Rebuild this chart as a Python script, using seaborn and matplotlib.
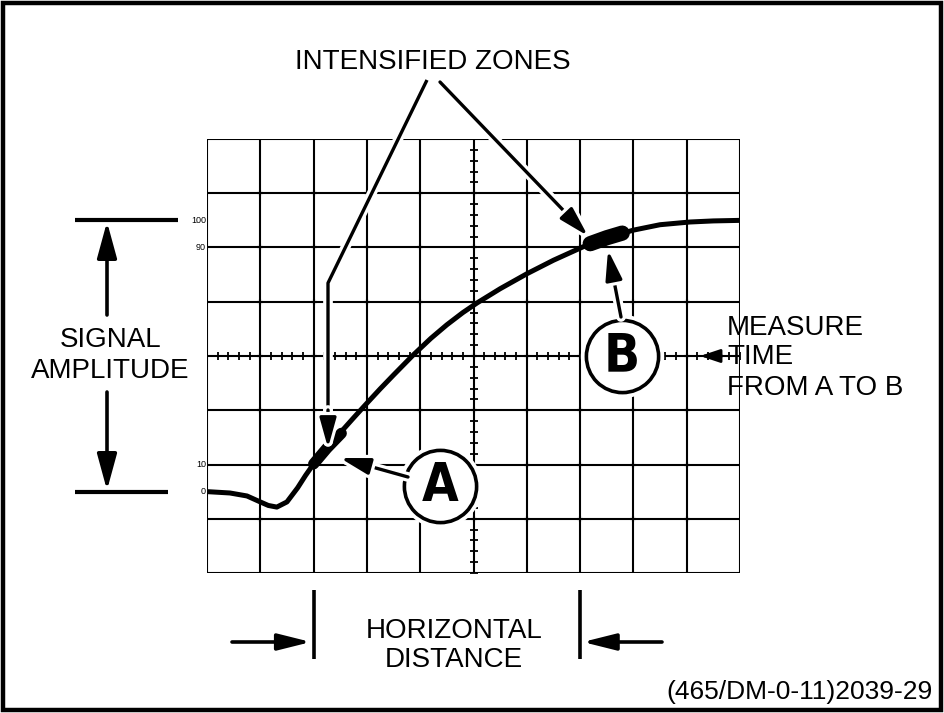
import numpy as np
import matplotlib
matplotlib.use("Agg")
import matplotlib.pyplot as plt
import seaborn as sns
from matplotlib.patches import FancyArrowPatch, Rectangle
import matplotlib.patheffects as pe
from matplotlib import font_manager
from matplotlib.font_manager import FontProperties

sns.set_style("white")
plt.rcParams['font.family'] = ['Liberation Sans', 'DejaVu Sans']
plt.rcParams['text.color'] = 'black'

_cands = [f.fname for f in font_manager.fontManager.ttflist
          if ('Condensed' in f.fname or 'Narrow' in f.fname) and 'Bold' in f.fname
          and 'Oblique' not in f.fname and 'Italic' not in f.fname and 'Semi' not in f.fname]
_cands.sort(key=lambda s: (0 if 'Liberation' in s else 1 if 'DejaVuSans' in s else 2, s))
if _cands:
    CIRCLE_FONT = FontProperties(fname=_cands[0], size=38)
else:
    CIRCLE_FONT = FontProperties(family='Liberation Sans', weight='bold', size=34)

# ---------------- data (time in graticule divisions, amplitude in percent) -------------
time_div = [0.0, 0.43, 0.75, 1.0, 1.15, 1.31, 1.5, 1.7, 1.85, 2.0, 2.25, 2.5, 2.75, 3.0,
            3.25, 3.5, 3.86, 4.2, 4.5, 4.8, 5.07, 5.5, 6.0, 6.5, 7.05, 7.5, 8.0, 8.5,
            9.06, 9.5, 10.0]
amplitude_pct = [0.0, -0.5, -1.6, -3.8, -5.1, -5.7, -3.8, 1.4, 6.0, 10.2, 16.0, 21.7,
                 27.2, 32.6, 37.9, 43.0, 50.2, 56.5, 61.5, 66.0, 69.6, 74.8, 80.3, 85.3,
                 90.2, 93.6, 96.4, 98.4, 99.4, 99.8, 100.0]
zone_a_div = [2.0, 2.25, 2.52]
zone_a_pct = [10.2, 16.0, 21.5]
zone_b_div = [7.19, 7.5, 7.79]
zone_b_pct = [91.4, 93.6, 95.3]
ref_levels = [100, 90, 10, 0]
ref_labels = ["100", "90", "10", "0"]
measure_start_div = 2.0    # 10 % crossing
measure_end_div = 7.0      # 90 % crossing

# graticule layout: 10 x 8 divisions, 20 % per vertical division
x_major = list(range(0, 11))
y_major = [-30, -10, 10, 30, 50, 70, 90, 110, 130]

W, H = 944, 713
fig = plt.figure(figsize=(W / 100, H / 100), dpi=100)
ax = fig.add_axes([207 / W, (H - 573) / H, 533 / W, 434 / H])
ax.set_xlim(0, 10)
ax.set_ylim(-30, 130)
ax.axis("off")

def F(px, py):
    return (px / W, 1 - py / H)

def D(px, py):
    return ((px - 207) / 53.3, 50 + 20 * (356 - py) / 54.25)

K = "black"
glw = 1.5
# graticule
ax.vlines(x_major, -30, 130, color=K, lw=glw, zorder=1)
ax.hlines(y_major, 0, 10, color=K, lw=glw, zorder=1)
xx, yy = np.meshgrid(x_major[1:-1], y_major[1:-1])
ax.plot(xx.ravel(), yy.ravel(), "+", color=K, ms=5, mew=1.5, zorder=1)
minor_x = np.arange(0, 10.01, 0.2)
ax.plot(minor_x, np.full_like(minor_x, 50.0), "|", color=K, ms=6, mew=1.3, zorder=1)
minor_y = np.arange(-30, 130.1, 4)
ax.plot(np.full_like(minor_y, 5.0), minor_y, "_", color=K, ms=6, mew=1.3, zorder=1)

# reference level labels
for lv, lb in zip(ref_levels, ref_labels):
    ax.text(-0.02, lv, lb, ha="right", va="center", fontsize=6.5, color=K,
            bbox=dict(fc="white", ec="none", pad=0.3), zorder=2, clip_on=False)

# signal curve and intensified zones
sns.lineplot(x=time_div, y=amplitude_pct, ax=ax, color=K, lw=3.6, sort=False,
             estimator=None, zorder=6)
ax.plot(zone_a_div, zone_a_pct, color=K, lw=8, solid_capstyle="round", zorder=6)
ax.plot(zone_b_div, zone_b_pct, color=K, lw=11, solid_capstyle="round", zorder=6)

halo = [pe.Stroke(linewidth=7, foreground="white"), pe.Normal()]

def arrow(p0, p1, lw=2.4, hl=18, hw=5, halo_on=False, z=4):
    ar = FancyArrowPatch(F(*p0), F(*p1), transform=fig.transFigure,
                         arrowstyle=f"-|>,head_length={hl},head_width={hw}",
                         mutation_scale=1, lw=lw, color=K, shrinkA=0, shrinkB=0,
                         zorder=z, clip_on=False)
    if halo_on:
        ar.set_path_effects(halo)
    fig.add_artist(ar)

def line(pts, lw=2.4, halo_on=False, z=4):
    xs = [F(*p)[0] for p in pts]
    ys = [F(*p)[1] for p in pts]
    ln = plt.Line2D(xs, ys, transform=fig.transFigure, color=K, lw=lw, zorder=z,
                    solid_capstyle="butt")
    if halo_on:
        ln.set_path_effects(halo)
    fig.add_artist(ln)

# pointers from "INTENSIFIED ZONES"
line([(427, 80), (328, 283), (328, 420)], halo_on=True)
arrow((328, 410), (328, 448), halo_on=True)
arrow((440, 82), (588, 236), halo_on=True)

# circles A and B
xa, ya = D(440, 486)
xb, yb = D(622, 356)
for (cx, cy), s in [((xa, ya), "A"), ((xb, yb), "B")]:
    ax.plot(cx, cy, "o", ms=60, mfc="white", mec="none", zorder=7, clip_on=False)
    ax.plot(cx, cy, "o", ms=52, mfc="white", mec=K, mew=2.6, zorder=7, clip_on=False)
    ax.text(cx, cy, s, ha="center", va="center", fontproperties=CIRCLE_FONT,
            color=K, zorder=8)
arrow((408, 477), (340, 458), halo_on=True, z=7)
arrow((621, 317), (608, 250), halo_on=True, z=7)
arrow((722, 356), (700, 356), lw=2.0, hl=12, hw=4)

# signal amplitude markers
for lv, xr in zip([100, 0], [-0.54, -0.73]):
    ax.plot([-2.48, xr], [lv, lv], color=K, lw=3, clip_on=False, solid_capstyle="butt")
xs_amp = D(107, 0)[0]
for y0, y1 in [(D(0, 315)[1], 100), (D(0, 392)[1], 0)]:
    ax.add_artist(FancyArrowPatch((xs_amp, y0), (xs_amp, y1),
                  arrowstyle="-|>,head_length=22,head_width=6", mutation_scale=1,
                  lw=2.6, color=K, shrinkA=0, shrinkB=1, clip_on=False))

# horizontal distance markers
ytop, ybot = D(0, 590)[1], D(0, 659)[1]
yarr = D(0, 642)[1]
for xm in [measure_start_div, measure_end_div]:
    ax.plot([xm, xm], [ytop, ybot], color=K, lw=2.6, clip_on=False, solid_capstyle="butt")
ax.add_artist(FancyArrowPatch((D(232, 0)[0], yarr), (measure_start_div - 0.05, yarr),
              arrowstyle="-|>,head_length=20,head_width=5", mutation_scale=1,
              lw=2.6, color=K, shrinkA=0, shrinkB=0, clip_on=False))
ax.add_artist(FancyArrowPatch((D(662, 0)[0], yarr), (measure_end_div + 0.05, yarr),
              arrowstyle="-|>,head_length=20,head_width=5", mutation_scale=1,
              lw=2.6, color=K, shrinkA=0, shrinkB=0, clip_on=False))

# texts
fs = 20
def T(px, py, s, ha="center", size=fs):
    fig.text(px / W, 1 - py / H, s, ha=ha, va="baseline", fontsize=size, color=K)

T(433, 69, "INTENSIFIED ZONES")
T(111, 347, "SIGNAL")
T(110, 378, "AMPLITUDE")
T(727, 335, "MEASURE", ha="left")
T(727, 364, "TIME", ha="left")
T(727, 395, "FROM A TO B", ha="left")
T(454, 638, "HORIZONTAL")
T(454, 667, "DISTANCE")
T(933, 699, "(465/DM-0-11)2039-29", ha="right", size=19)

# outer frame
fig.add_artist(Rectangle((3 / W, 3 / H), 938 / W, 707 / H, transform=fig.transFigure,
                         fill=False, ec=K, lw=3.2))

fig.savefig("out.png", dpi=100, facecolor="white")
